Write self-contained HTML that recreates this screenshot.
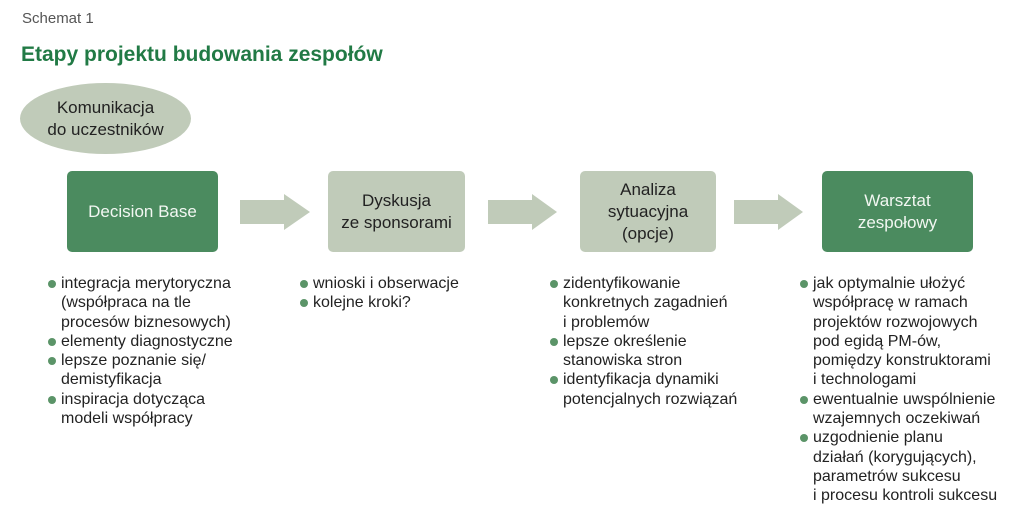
<!DOCTYPE html>
<html><head><meta charset="utf-8"><style>
body{margin:0;width:1024px;height:518px;background:#fff;position:relative;overflow:hidden;font-family:"Liberation Sans",sans-serif;color:#222}
.a{position:absolute}
.box{position:absolute;display:flex;align-items:center;justify-content:center;text-align:center;border-radius:5px;font-size:17px;line-height:22px}
.dk{background:#4b8b5f;color:#f2f7f2}
.lt{background:#c0cbb9;color:#222}
.list{position:absolute;font-size:16px;line-height:19.3px;color:#222}
.list div{position:relative;padding-left:13px;white-space:nowrap}
.list div.b::before{content:"";position:absolute;left:0;top:6px;width:8px;height:8px;border-radius:50%;background:#5b9468}
</style></head><body>
<div class="a" style="left:22px;top:10px;font-size:15px;color:#555">Schemat 1</div>
<div class="a" style="left:21px;top:43px;font-size:21px;font-weight:bold;color:#217a45">Etapy projektu budowania zespołów</div>
<div class="a" style="left:20px;top:83px;width:171px;height:71px;border-radius:50%;background:#c0cbb9;display:flex;align-items:center;justify-content:center;text-align:center;font-size:17px;line-height:22px">Komunikacja<br>do uczestników</div>
<div class="box dk" style="left:67px;top:171px;width:151px;height:81px">Decision Base</div>
<div class="box lt" style="left:328px;top:171px;width:137px;height:81px">Dyskusja<br>ze sponsorami</div>
<div class="box lt" style="left:580px;top:171px;width:136px;height:81px">Analiza<br>sytuacyjna<br>(opcje)</div>
<div class="box dk" style="left:822px;top:171px;width:151px;height:81px">Warsztat<br>zespołowy</div>
<svg class="a" style="left:0;top:0" width="1024" height="518">
<g fill="#c0cbb9">
<polygon points="240,200 284,200 284,194 310,212 284,230 284,224 240,224"/>
<polygon points="488,200 532,200 532,194 557,212 532,230 532,224 488,224"/>
<polygon points="734,200 778,200 778,194 803,212 778,230 778,224 734,224"/>
</g></svg>
<div class="list" style="left:48px;top:274px">
<div class="b">integracja merytoryczna</div><div>(współpraca na tle</div><div>procesów biznesowych)</div>
<div class="b">elementy diagnostyczne</div><div class="b">lepsze poznanie się/</div><div>demistyfikacja</div>
<div class="b">inspiracja dotycząca</div><div>modeli współpracy</div></div>
<div class="list" style="left:300px;top:274px">
<div class="b">wnioski i obserwacje</div><div class="b">kolejne kroki?</div></div>
<div class="list" style="left:550px;top:274px">
<div class="b">zidentyfikowanie</div><div>konkretnych zagadnień</div><div>i problemów</div>
<div class="b">lepsze określenie</div><div>stanowiska stron</div>
<div class="b">identyfikacja dynamiki</div><div>potencjalnych rozwiązań</div></div>
<div class="list" style="left:800px;top:274px">
<div class="b">jak optymalnie ułożyć</div><div>współpracę w ramach</div><div>projektów rozwojowych</div><div>pod egidą PM-ów,</div><div>pomiędzy konstruktorami</div><div>i technologami</div>
<div class="b">ewentualnie uwspólnienie</div><div>wzajemnych oczekiwań</div>
<div class="b">uzgodnienie planu</div><div>działań (korygujących),</div><div>parametrów sukcesu</div><div>i procesu kontroli sukcesu</div></div>
</body></html>
